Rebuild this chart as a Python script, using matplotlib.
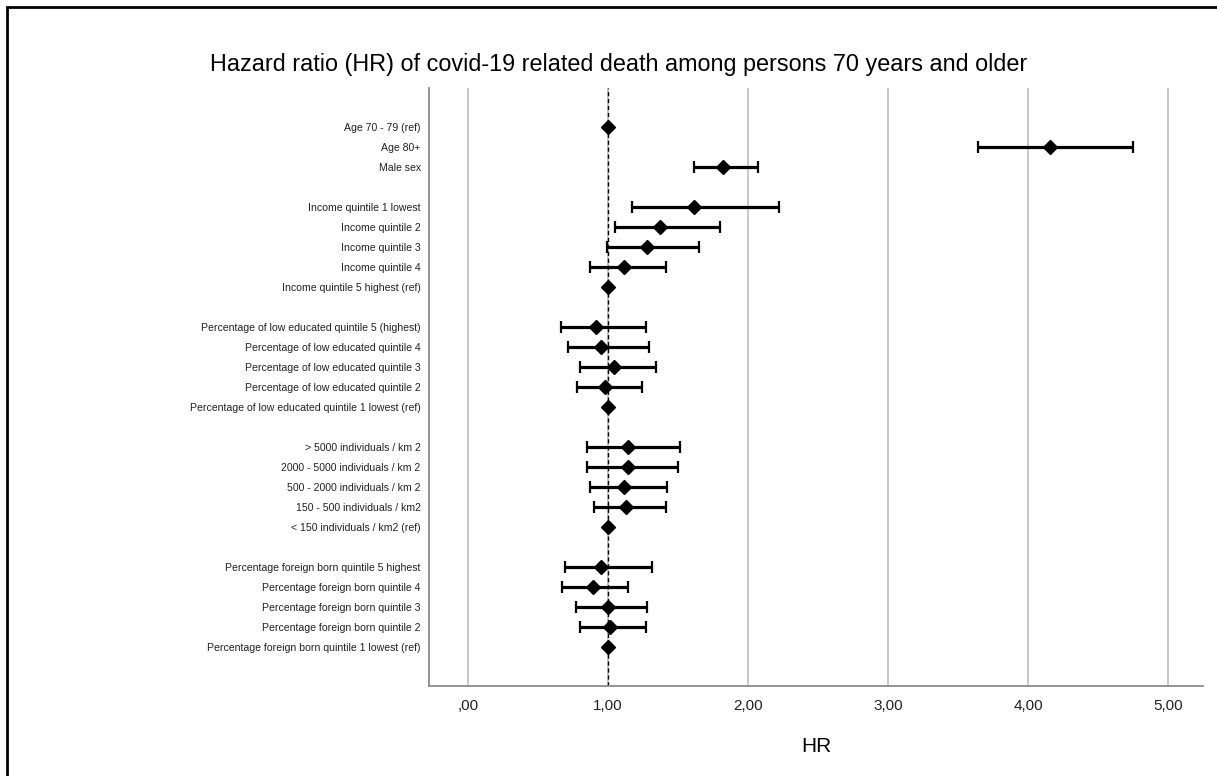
import matplotlib
matplotlib.use('Agg')
import matplotlib.pyplot as plt
import numpy as np
from matplotlib.patches import Rectangle

plt.rcParams['font.family'] = ['Liberation Sans', 'DejaVu Sans']

# Rows from top to bottom ('' = empty spacer row)
labels = [
    'Age 70 - 79 (ref)', 'Age 80+', 'Male sex', '',
    'Income quintile 1 lowest', 'Income quintile 2', 'Income quintile 3',
    'Income quintile 4', 'Income quintile 5 highest (ref)', '',
    'Percentage of low educated quintile 5 (highest)',
    'Percentage of low educated quintile 4',
    'Percentage of low educated quintile 3',
    'Percentage of low educated quintile 2',
    'Percentage of low educated quintile 1 lowest (ref)', '',
    '> 5000 individuals / km 2', '2000 - 5000 individuals / km 2',
    '500 - 2000 individuals / km 2', '150 - 500 individuals / km2',
    '< 150 individuals / km2 (ref)', '',
    'Percentage foreign born quintile 5 highest',
    'Percentage foreign born quintile 4',
    'Percentage foreign born quintile 3',
    'Percentage foreign born quintile 2',
    'Percentage foreign born quintile 1 lowest (ref)',
]
nan = np.nan
hr = [1.00, 4.16, 1.82, nan,
      1.61, 1.37, 1.28, 1.11, 1.00, nan,
      0.91, 0.95, 1.04, 0.98, 1.00, nan,
      1.14, 1.14, 1.11, 1.13, 1.00, nan,
      0.95, 0.89, 1.00, 1.01, 1.00]
lower = [nan, 3.64, 1.61, nan,
         1.17, 1.05, 0.99, 0.87, nan, nan,
         0.66, 0.71, 0.80, 0.78, nan, nan,
         0.85, 0.85, 0.87, 0.90, nan, nan,
         0.69, 0.67, 0.77, 0.80, nan]
upper = [nan, 4.75, 2.07, nan,
         2.22, 1.80, 1.65, 1.41, nan, nan,
         1.27, 1.29, 1.34, 1.24, nan, nan,
         1.51, 1.50, 1.42, 1.41, nan, nan,
         1.31, 1.14, 1.28, 1.27, nan]
xticks = [0, 1, 2, 3, 4, 5]
xticklabels = [',00', '1,00', '2,00', '3,00', '4,00', '5,00']

hr = np.array(hr)
lower = np.array(lower)
upper = np.array(upper)
y = np.arange(len(labels))

fig = plt.figure(figsize=(12.17, 7.76), dpi=100)
ax = fig.add_axes([429 / 1217, 1 - 686 / 776, (1203 - 429) / 1217, (686 - 88) / 776])

# grid + reference line
for xt in xticks:
    ax.axvline(xt, color='#c4c4c4', lw=1.3, zorder=0)
ax.axvline(1, color='black', lw=1.0, ls=(0, (3, 2)), zorder=1)

has_ci = ~np.isnan(lower)
ax.errorbar(hr[has_ci], y[has_ci],
            xerr=[hr[has_ci] - lower[has_ci], upper[has_ci] - hr[has_ci]],
            fmt='none', ecolor='black', elinewidth=2.3, capsize=4.5, capthick=1.6, zorder=3)
pts = ~np.isnan(hr)
ax.plot(hr[pts], y[pts], 'D', color='black', markersize=7.5, zorder=4)

ax.set_xlim(-0.28, 5.25)
ax.set_ylim(len(labels) - 1 + 1.95, -1.95)
ax.set_yticks(y)
ax.set_yticklabels(labels, fontsize=7.6, color='#222222')
ax.set_xticks(xticks)
ax.set_xticklabels(xticklabels, fontsize=11, color='#222222')
ax.tick_params(axis='y', length=0, pad=6)
ax.tick_params(axis='x', length=0, pad=9)

for s in ['top', 'right']:
    ax.spines[s].set_visible(False)
for s in ['left', 'bottom']:
    ax.spines[s].set_color('#8c8c8c')
    ax.spines[s].set_linewidth(1.3)

ax.set_xlabel('HR', fontsize=15, labelpad=18)
fig.text(619 / 1217, 1 - 65 / 776,
         'Hazard ratio (HR) of covid-19 related death among persons 70 years and older',
         fontsize=16.8, ha='center', va='center')

# outer frame (only top/left edge visible in the original)
fig.add_artist(Rectangle((7 / 1217, -0.5), 2, 0.5 + 1 - 7 / 776, transform=fig.transFigure,
                         fill=False, edgecolor='black', lw=2))

fig.savefig('out.png', dpi=100)
